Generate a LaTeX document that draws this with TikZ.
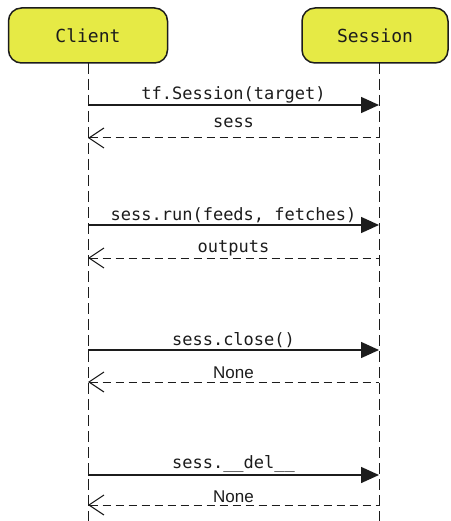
\documentclass[tikz,border=0pt]{standalone}
\usepackage{fontspec}
\setmainfont{Liberation Sans}
\setmonofont{DejaVu Sans Mono}
\usetikzlibrary{arrows.meta}
\definecolor{actorfill}{HTML}{E6EA45}
\definecolor{ink}{HTML}{1C1C1C}
\tikzset{
  actor/.style={draw=ink, line width=1.5pt, fill=actorfill, rounded corners=13pt,
    minimum height=55pt, font=\fontsize{18}{20}\selectfont\ttfamily, text=ink},
  lifeline/.style={draw=ink, line width=1pt, dash pattern=on 11pt off 5pt},
  call/.style={draw=ink, line width=1.5pt, -{Triangle[length=18pt, width=16pt]}},
  reply/.style={draw=ink, line width=1pt, dash pattern=on 8pt off 5pt,
    {Straight Barb[length=15pt, width=20pt, line width=1.1pt]}-},
  msg/.style={midway, anchor=base, inner sep=0pt, text=ink,
    font=\fontsize{17}{19}\selectfont\ttfamily},
  plain/.style={midway, anchor=base, inner sep=0pt, text=ink,
    font=\fontsize{17}{19}\selectfont}
}
\begin{document}
\begin{tikzpicture}[x=1pt, y=-1pt]
\useasboundingbox (0,0) rectangle (450,521);

% participants
\node[actor, minimum width=159pt] (client) at (88,35.5) {Client};
\node[actor, minimum width=146pt] (session) at (375,35.5) {Session};

% lifelines
\coordinate (ctop) at (88,63);
\coordinate (cbot) at (88,521);
\coordinate (stop) at (379,63);
\coordinate (sbot) at (379,521);
\draw[lifeline] (ctop) -- (cbot);
\draw[lifeline] (stop) -- (sbot);

% message anchor points on the lifelines
\foreach \n/\y in {1/105, 2/138, 3/225, 4/258, 5/350, 6/382, 7/475, 8/505} {
  \coordinate (c\n) at (88,\y);
  \coordinate (s\n) at (379,\y);
}

% calls and replies
\draw[call]  (c1) -- node[msg, yshift=5pt] {tf.Session(target)} (s1);
\draw[reply] (c2) -- node[msg, yshift=10pt] {sess} (s2);

\draw[call]  (c3) -- node[msg, yshift=5pt] {sess.run(feeds, fetches)} (s3);
\draw[reply] (c4) -- node[msg, yshift=6pt] {outputs} (s4);

\draw[call]  (c5) -- node[msg, yshift=5pt] {sess.close()} (s5);
\draw[reply] (c6) -- node[plain, yshift=4pt] {None} (s6);

\draw[call]  (c7) -- node[msg, yshift=7pt] {sess.\_\_del\_\_} (s7);
\draw[reply] (c8) -- node[plain, yshift=3pt] {None} (s8);
\end{tikzpicture}
\end{document}
